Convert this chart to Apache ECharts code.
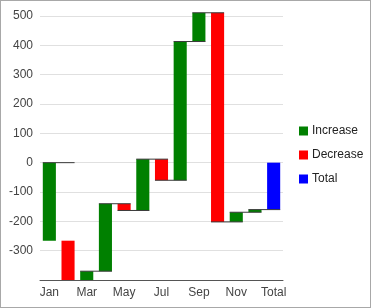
<!DOCTYPE html>
<html>
<head>
<meta charset="utf-8">
<script src="https://cdn.jsdelivr.net/npm/echarts@6/dist/echarts.min.js"></script>
<style>
html,body{margin:0;padding:0;background:#fff;}
#wrap{position:relative;width:371px;height:308px;}
#chart{width:371px;height:308px;}
#frame{position:absolute;left:0;top:0;width:371px;height:308px;box-sizing:border-box;border:1px solid #a8a8a8;pointer-events:none;}
</style>
</head>
<body>
<div id="wrap"><div id="chart"></div><div id="frame"></div></div>
<script>
var categories = ['Jan','Feb','Mar','Apr','May','Jun','Jul','Aug','Sep','Oct','Nov','Dec','Total'];
var startValues = [-266, -266, -420, -370, -140, -163, 12, -60, 413, 511, -202, -169, 0];
var endValues   = [0, -420, -370, -140, -163, 12, -60, 413, 511, -202, -169, -160, -160];
var barTypes = ['Increase','Decrease','Increase','Increase','Decrease','Increase','Decrease','Increase','Increase','Decrease','Increase','Increase','Total'];
var seriesNames = ['Increase','Decrease','Total'];
var seriesColors = ['#008000','#ff0000','#0000ff'];
var yTicks = {min: -400, max: 500, interval: 100};

var chart = echarts.init(document.getElementById('chart'), null, {renderer:'canvas'});

function renderBar(params, api) {
  var idx = api.value(0);
  var p1 = api.coord([idx, api.value(1)]);
  var p2 = api.coord([idx, api.value(2)]);
  var w = api.size([1, 0])[0] * 0.7;
  var cs = params.coordSys;
  var bottom = cs.y + cs.height;
  var y1 = Math.min(p1[1], p2[1]);
  var y2 = Math.min(Math.max(p1[1], p2[1]), bottom);
  if (y2 <= y1) return null;
  return {type:'rect', shape:{x: p1[0] - w/2, y: y1, width: w, height: y2 - y1}, style:{fill: api.visual('color')}};
}

function renderLine(params, api) {
  var idx = api.value(0);
  var lvl = api.value(1);
  var a = api.coord([idx, lvl]);
  var b = api.coord([idx + 1, lvl]);
  var w = api.size([1, 0])[0] * 0.7;
  var cs = params.coordSys;
  if (a[1] > cs.y + cs.height + 0.5) return null;
  return {type:'line', shape:{x1: a[0] - w/2, y1: a[1], x2: b[0] + w/2, y2: b[1]}, style:{stroke:'#3a3a3a', lineWidth:1}};
}

var series = seriesNames.map(function(name, k){
  var data = [];
  for (var i = 0; i < categories.length; i++) {
    if (barTypes[i] === name) data.push([i, startValues[i], endValues[i]]);
  }
  return {name: name, type:'custom', renderItem: renderBar, itemStyle:{color: seriesColors[k]},
          encode:{x:0, y:[1,2]}, data: data, z: 2, clip: false};
});
var lineData = [];
for (var i = 0; i < categories.length - 1; i++) lineData.push([i, endValues[i]]);
series.push({name:'connector', type:'custom', renderItem: renderLine, encode:{x:0, y:1}, data: lineData, z: 3, silent:true, clip:false});

chart.setOption({
  animation: false,
  backgroundColor: '#fff',
  textStyle: {fontFamily: 'Liberation Sans, Arial, sans-serif'},
  grid: {left: 40, right: 88, top: 16, bottom: 28},
  legend: {
    data: seriesNames, orient: 'vertical', left: 299, top: 125, padding: 0,
    icon: 'rect', itemWidth: 9, itemHeight: 9, itemGap: 12,
    textStyle: {fontSize: 12, color: '#222', fontFamily: 'Liberation Sans, Arial, sans-serif', padding:[0,0,0,-1]}
  },
  xAxis: {
    type: 'category', data: categories, boundaryGap: true,
    axisLine: {onZero: false, lineStyle: {color: '#555', width: 1}},
    axisTick: {alignWithLabel: true, interval: 1, length: 4, lineStyle:{color:'#555'}},
    axisLabel: {interval: 1, fontSize: 12, color: '#444', margin: 7},
    splitLine: {show: false}
  },
  yAxis: {
    type: 'value', min: yTicks.min, max: yTicks.max, interval: yTicks.interval,
    axisLine: {show: false}, axisTick: {show: false},
    axisLabel: {fontSize: 12, color: '#444', margin: 7, showMinLabel: false},
    splitLine: {lineStyle: {color: '#e0e0e0', width: 1}}
  },
  series: series
});
</script>
</body>
</html>
